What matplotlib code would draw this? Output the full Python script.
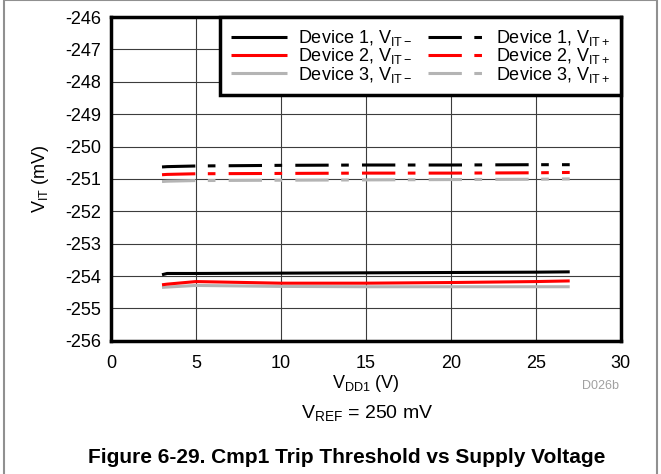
import matplotlib
matplotlib.use("Agg")
import matplotlib.pyplot as plt
from matplotlib.patches import Rectangle

plt.rcParams['font.family'] = ['Liberation Sans', 'DejaVu Sans']
plt.rcParams['mathtext.fontset'] = 'custom'
plt.rcParams['mathtext.rm'] = 'Liberation Sans'
plt.rcParams['mathtext.it'] = 'Liberation Sans'
plt.rcParams['lines.scale_dashes'] = False

# Supply voltage sweep (V)
vdd1 = [3, 3.3, 5, 10, 15, 20, 25, 27]

# Falling trip threshold V_IT- (mV)
dev1_vit_neg = [-253.96, -253.92, -253.92, -253.91, -253.90, -253.89, -253.88, -253.87]
dev2_vit_neg = [-254.27, -254.25, -254.17, -254.22, -254.22, -254.20, -254.17, -254.15]
dev3_vit_neg = [-254.35, -254.34, -254.29, -254.32, -254.33, -254.33, -254.33, -254.33]

# Rising trip threshold V_IT+ (mV)
dev1_vit_pos = [-250.63, -250.62, -250.60, -250.58, -250.57, -250.57, -250.56, -250.56]
dev2_vit_pos = [-250.87, -250.86, -250.84, -250.83, -250.82, -250.82, -250.81, -250.80]
dev3_vit_pos = [-251.08, -251.07, -251.05, -251.04, -251.03, -251.02, -251.01, -251.00]

x_ticks = [0, 5, 10, 15, 20, 25, 30]
y_ticks = [-256, -255, -254, -253, -252, -251, -250, -249, -248, -247, -246]

colors = ['#000000', '#ff0000', '#b4b4b4']
dash = (0, (24, 9, 5.5, 9.5))
MINUS = '\u2212'

fig = plt.figure(figsize=(6.61, 4.74), dpi=100)
ax = fig.add_axes([0.168, 0.281, 0.771, 0.683])

lw = 2.2
neg = [dev1_vit_neg, dev2_vit_neg, dev3_vit_neg]
pos = [dev1_vit_pos, dev2_vit_pos, dev3_vit_pos]
handles = []
for i, (n, c) in enumerate(zip(neg, colors)):
    h, = ax.plot(vdd1, n, color=c, lw=lw, solid_capstyle='butt',
                 label='Device %d, V$_{\\mathregular{IT%s}}$' % (i + 1, MINUS), zorder=3 - i * 0.1)
    handles.append(h)
for i, (p, c) in enumerate(zip(pos, colors)):
    h, = ax.plot(vdd1, p, color=c, lw=lw, linestyle=dash, dash_capstyle='butt',
                 label='Device %d, V$_{\\mathregular{IT+}}$' % (i + 1), zorder=3 - i * 0.1)
    handles.append(h)

ax.set_xlim(0, 30)
ax.set_ylim(-256, -246)
ax.set_xticks(x_ticks)
ax.set_yticks(y_ticks)
ax.set_yticklabels([str(v) for v in y_ticks])
ax.tick_params(length=0, labelsize=13)
ax.tick_params(axis='y', pad=7)
ax.tick_params(axis='x', pad=10)
ax.grid(True, color='#3c3c3c', lw=0.8)
ax.set_axisbelow(True)
for s in ax.spines.values():
    s.set_linewidth(2.5)

ax.set_xlabel(r'V$_{\mathregular{DD1}}$ (V)', fontsize=13, labelpad=1)
ax.set_ylabel(r'V$_{\mathregular{IT}}$ (mV)', fontsize=13, labelpad=10)

leg = ax.legend(handles=handles, ncol=2, loc='upper right', borderaxespad=0,
                fontsize=13, frameon=True, fancybox=False, handlelength=3.1,
                handletextpad=0.65, columnspacing=0.85, labelspacing=-0.09,
                borderpad=0.6)
leg.get_frame().set_edgecolor('black')
leg.get_frame().set_linewidth(2.5)
leg.get_frame().set_alpha(1)

fig.text(0.908, 0.186, 'D026b', fontsize=9, color='#a0a0a0', ha='center', va='center')
fig.text(0.556, 0.128, r'V$_{\mathregular{REF}}$ = 250 mV', fontsize=14, ha='center', va='center')
fig.text(0.524, 0.034, 'Figure 6-29. Cmp1 Trip Threshold vs Supply Voltage', fontsize=15,
         fontweight='bold', ha='center', va='center')

fig.patches.append(Rectangle((0.006, -0.01), 0.988, 1.009, transform=fig.transFigure,
                             fill=False, edgecolor='#909090', lw=1.5))

fig.savefig('out.png', dpi=100)
